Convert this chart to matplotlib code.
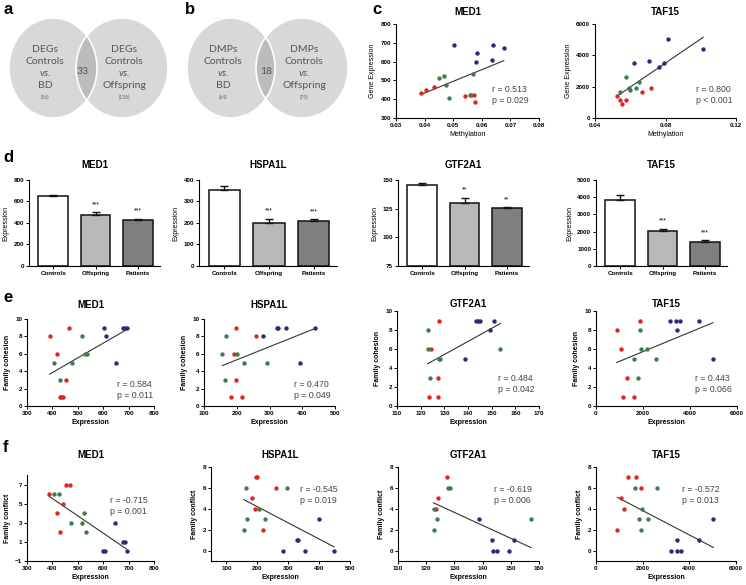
import numpy as np
import matplotlib
matplotlib.use('Agg')
import matplotlib.pyplot as plt
from matplotlib.patches import Ellipse

plt.rcParams['font.family'] = ['Liberation Sans', 'DejaVu Sans']

W, H = 746, 585

RED = '#e02424'
GREEN = '#3f7c4c'
NAVY = '#2a2a78'

# ---- panel a / b venn counts
venn_a_left = ['DEGs', 'Controls', 'vs.', 'BD', '(56)']
venn_a_right = ['DEGs', 'Controls', 'vs.', 'Offspring', '(128)']
venn_a_shared = 33
venn_b_left = ['DMPs', 'Controls', 'vs.', 'BD', '(64)']
venn_b_right = ['DMPs', 'Controls', 'vs.', 'Offspring', '(75)']
venn_b_shared = 18

# ---- panel c : methylation vs expression (P = patients, O = offspring, C = controls)
c_med1_P_x = [0.0389, 0.0405, 0.0433, 0.0541, 0.0562, 0.0571, 0.0577]
c_med1_P_y = [435, 451, 467, 417, 422, 424, 387]
c_med1_O_x = [0.0451, 0.0467, 0.0475, 0.0485, 0.0569, 0.0558]
c_med1_O_y = [515, 522, 474, 404, 535, 422]
c_med1_C_x = [0.0504, 0.0583, 0.0578, 0.0638, 0.0636, 0.0677]
c_med1_C_y = [690, 647, 600, 686, 606, 674]

c_taf15_P_x = [0.0527, 0.0542, 0.0555, 0.0576, 0.0665, 0.0716]
c_taf15_P_y = [1398, 1163, 907, 1131, 1686, 1921]
c_taf15_O_x = [0.0542, 0.0576, 0.0595, 0.0599, 0.0633, 0.0651]
c_taf15_O_y = [1655, 2615, 1942, 1814, 1942, 2284]
c_taf15_C_x = [0.0624, 0.0704, 0.0761, 0.0790, 0.0812, 0.1014]
c_taf15_C_y = [3522, 3670, 3266, 3522, 5018, 4378]

# ---- panel d : mean expression per group
groups = ['Controls', 'Offspring', 'Patients']
d_med1 = [650, 478, 430]
d_med1_err = [15, 22, 8]
d_hspa1l = [352, 200, 208]
d_hspa1l_err = [22, 20, 10]
d_gtf2a1 = [145.5, 130, 125.5]
d_gtf2a1_err = [1.5, 4.5, 0.7]
d_taf15 = [3830, 2020, 1370]
d_taf15_err = [300, 150, 130]
d_med1_sig = ['', '***', '***']
d_hspa1l_sig = ['', '***', '***']
d_gtf2a1_sig = ['', '**', '**']
d_taf15_sig = ['', '***', '***']

# ---- panel e : expression vs family cohesion
e_med1_P_x = [389, 420, 467, 454, 428, 435, 442]
e_med1_P_y = [8, 6, 9, 3, 1, 1, 1]
e_med1_O_x = [408, 428, 476, 518, 529, 538]
e_med1_O_y = [5, 3, 5, 8, 6, 6]
e_med1_C_x = [603, 610, 676, 685, 692, 650]
e_med1_C_y = [9, 8, 9, 9, 9, 5]

e_hspa1l_P_x = [198, 258, 191, 197, 183, 217]
e_hspa1l_P_y = [9, 8, 6, 3, 1, 1]
e_hspa1l_O_x = [168, 156, 201, 222, 292, 164]
e_hspa1l_O_y = [8, 6, 6, 5, 5, 3]
e_hspa1l_C_x = [280, 322, 327, 350, 394, 440]
e_hspa1l_C_y = [8, 9, 9, 9, 5, 9]

e_gtf2a1_P_x = [127.6, 124.4, 127.5, 123.5, 127.5]
e_gtf2a1_P_y = [9, 6, 3, 1, 1]
e_gtf2a1_O_x = [123, 123, 123.8, 127.6, 128.3, 153.7]
e_gtf2a1_O_y = [8, 6, 3, 5, 5, 6]
e_gtf2a1_C_x = [143.5, 144.2, 145.1, 151, 149.1, 138.9]
e_gtf2a1_C_y = [9, 9, 9, 9, 8, 5]

e_taf15_P_x = [881, 1052, 1876, 1336, 1165, 1635]
e_taf15_P_y = [8, 6, 9, 3, 1, 1]
e_taf15_O_x = [1876, 1620, 1905, 2190, 1777, 2559]
e_taf15_O_y = [8, 5, 6, 6, 3, 5]
e_taf15_C_x = [3155, 3411, 3582, 3440, 4364, 4975]
e_taf15_C_y = [9, 9, 9, 8, 9, 5]

# ---- panel f : expression vs family conflict
f_med1_P_x = [388, 454, 468, 441, 420, 430]
f_med1_P_y = [6, 7, 7, 5, 4, 2]
f_med1_O_x = [406, 427, 474, 515, 524, 534]
f_med1_O_y = [6, 6, 3, 3, 4, 2]
f_med1_C_x = [647, 600, 608, 676, 687, 692]
f_med1_C_y = [3, 0, 0, 1, 1, 0]

f_hspa1l_P_x = [197, 200, 260, 183, 193, 217]
f_hspa1l_P_y = [7, 7, 6, 5, 4, 2]
f_hspa1l_O_x = [163, 295, 204, 168, 224, 156]
f_hspa1l_O_y = [6, 6, 4, 3, 3, 2]
f_hspa1l_C_x = [284, 328, 333, 354, 400, 448]
f_hspa1l_C_y = [0, 1, 1, 0, 3, 0]

f_gtf2a1_P_x = [127.4, 124.1, 123.4]
f_gtf2a1_P_y = [7, 5, 4]
f_gtf2a1_O_x = [127.8, 128.3, 122.6, 123.9, 122.8, 157.2]
f_gtf2a1_O_y = [6, 6, 4, 3, 2, 3]
f_gtf2a1_C_x = [138.7, 143.5, 143.7, 145.1, 149.2, 151]
f_gtf2a1_C_y = [3, 1, 0, 0, 0, 1]

f_taf15_P_x = [1371, 1700, 1914, 1057, 1200, 914]
f_taf15_P_y = [7, 7, 6, 5, 4, 2]
f_taf15_O_x = [1657, 2600, 1971, 1829, 2229, 1929]
f_taf15_O_y = [6, 6, 4, 3, 3, 2]
f_taf15_C_x = [3214, 3471, 3471, 3643, 4414, 5029]
f_taf15_C_y = [0, 1, 0, 0, 1, 3]

stats_c = ['r = 0.513\np = 0.029', 'r = 0.800\np < 0.001']
stats_e = ['r = 0.584\np = 0.011', 'r = 0.470\np = 0.049',
           'r = 0.484\np = 0.042', 'r = 0.443\np = 0.066']
stats_f = ['r = -0.715\np = 0.001', 'r = -0.545\np = 0.019',
           'r = -0.619\np = 0.006', 'r = -0.572\np = 0.013']

fig = plt.figure(figsize=(W / 100, H / 100), dpi=100)


def rect(l, t, r, b):
    return [l / W, 1 - b / H, (r - l) / W, (b - t) / H]


def style(ax, fs=4.5, bold=False):
    for s in ['top', 'right']:
        ax.spines[s].set_visible(False)
    for s in ['left', 'bottom']:
        ax.spines[s].set_linewidth(0.8)
    ax.tick_params(direction='out', length=2, width=0.7, labelsize=fs, pad=1.5)
    if bold:
        for lab in ax.get_xticklabels() + ax.get_yticklabels():
            lab.set_fontweight('bold')


def title(ax, txt, y):
    p = ax.get_position()
    fig.text(p.x0 + p.width / 2, 1 - y / H, txt, ha='center', va='center',
             fontsize=7, fontweight='bold')


def scatter_panel(box, px, py, ox, oy, cx, cy, xlim, xticks, ylim, yticks,
                  xlabel, ylabel, name, ty, stat, sx, sy, bold_lab=True, xfmt=None):
    ax = fig.add_axes(rect(*box))
    allx = np.array(px + ox + cx)
    ally = np.array(py + oy + cy)
    k, b = np.polyfit(allx, ally, 1)
    lx = np.array([allx.min(), allx.max()])
    ax.plot(lx, k * lx + b, color='#333333', lw=0.8, zorder=1)
    ax.scatter(px, py, s=10, color=RED, zorder=3, linewidths=0)
    ax.scatter(ox, oy, s=10, color=GREEN, zorder=3, linewidths=0)
    ax.scatter(cx, cy, s=10, color=NAVY, zorder=3, linewidths=0)
    ax.set_xlim(*xlim)
    ax.set_ylim(*ylim)
    ax.set_xticks(xticks)
    ax.set_yticks(yticks)
    if xfmt:
        ax.set_xticklabels([xfmt % v for v in xticks])
    style(ax, bold=True)
    w = 'bold' if bold_lab else 'normal'
    ax.set_xlabel(xlabel, fontsize=5, fontweight=w, labelpad=2)
    ax.set_ylabel(ylabel, fontsize=5, fontweight=w, labelpad=3)
    title(ax, name, ty)
    fig.text(sx / W, 1 - sy / H, stat, ha='left', va='center', fontsize=6.3,
             color='#444444', linespacing=1.25)
    return ax


def bar_panel(box, vals, errs, sig, ylim, yticks, name):
    ax = fig.add_axes(rect(*box))
    x = np.arange(len(groups))
    ax.bar(x, [v - ylim[0] for v in vals], bottom=ylim[0], width=0.7,
           color=['white', '#b8b8b8', '#7f7f7f'], edgecolor='#111111', linewidth=1.1, zorder=2)
    ax.errorbar(x, vals, yerr=[[0] * len(errs), errs], fmt='none', ecolor='#111111',
                elinewidth=1.0, capsize=3, capthick=1.0, zorder=3)
    for xi, v, e, s in zip(x, vals, errs, sig):
        if s:
            ax.annotate(s, (xi, v + e), xytext=(0, 3), textcoords='offset points',
                        ha='center', va='bottom', fontsize=4.8)
    ax.set_xlim(-0.57, 2.52)
    ax.set_ylim(*ylim)
    ax.set_yticks(yticks)
    ax.set_xticks(x)
    ax.set_xticklabels(groups)
    style(ax, fs=4.5, bold=True)
    ax.set_ylabel('Expression', fontsize=5, labelpad=3)
    title(ax, name, 165)
    return ax


# ---- venn diagrams
axv = fig.add_axes([0, 0, 1, 1], zorder=-1)
axv.set_xlim(0, W)
axv.set_ylim(H, 0)
axv.axis('off')


def venn(cl, cr, left, right, shared, sx):
    fill = '#d8d8d8'
    e1 = Ellipse((cl, 68), 88, 100, facecolor=fill, edgecolor='none')
    e2 = Ellipse((cr, 68), 92, 100, facecolor=fill, edgecolor='none')
    axv.add_patch(e1)
    axv.add_patch(e2)
    ov = Ellipse((cr, 68), 92, 100, facecolor='#bcbcbc', edgecolor='none')
    axv.add_patch(ov)
    ov.set_clip_path(e1)
    axv.add_patch(Ellipse((cl, 68), 88, 100, facecolor='none', edgecolor='white', lw=1.2))
    axv.add_patch(Ellipse((cr, 68), 92, 100, facecolor='none', edgecolor='white', lw=1.2))
    for cx, lines in [(cl - 8, left), (cr + 2, right)]:
        for i, (txt, yy) in enumerate(zip(lines[:4], [49, 62, 74, 86])):
            axv.text(cx, yy, txt, ha='center', va='center', fontsize=7.5, color='#555555',
                     family=['Lato', 'DejaVu Sans'], style='italic' if i == 2 else 'normal')
        axv.text(cx, 97, lines[4], ha='center', va='center', fontsize=3.5, color='#666666',
                 family=['Lato', 'DejaVu Sans'])
    axv.text(sx, 72, str(shared), ha='center', va='center', fontsize=7.5, color='#555555',
             family=['Lato', 'DejaVu Sans'])


venn(53, 122, venn_a_left, venn_a_right, venn_a_shared, 83)
venn(231, 302, venn_b_left, venn_b_right, venn_b_shared, 266)

# ---- panel c
scatter_panel((396, 24, 539, 118), c_med1_P_x, c_med1_P_y, c_med1_O_x, c_med1_O_y,
              c_med1_C_x, c_med1_C_y, (0.03, 0.08), [0.03, 0.04, 0.05, 0.06, 0.07, 0.08],
              (300, 800), range(300, 801, 100), 'Methylation', 'Gene Expression', 'MED1', 12,
              stats_c[0], 492, 95, bold_lab=False, xfmt='%.2f')
scatter_panel((595, 24, 736, 118), c_taf15_P_x, c_taf15_P_y, c_taf15_O_x, c_taf15_O_y,
              c_taf15_C_x, c_taf15_C_y, (0.04, 0.12), [0.04, 0.08, 0.12],
              (0, 6000), [0, 2000, 4000, 6000], 'Methylation', 'Gene Expression', 'TAF15', 12,
              stats_c[1], 696, 95, bold_lab=False, xfmt='%.2f')

# ---- panel d
bar_panel((29, 180, 160, 266), d_med1, d_med1_err, d_med1_sig, (0, 800), range(0, 801, 200), 'MED1')
bar_panel((199, 180, 337, 266), d_hspa1l, d_hspa1l_err, d_hspa1l_sig, (0, 400), range(0, 401, 100), 'HSPA1L')
bar_panel((398, 180, 529, 266), d_gtf2a1, d_gtf2a1_err, d_gtf2a1_sig, (75, 150), [75, 100, 125, 150], 'GTF2A1')
bar_panel((596, 180, 727, 266), d_taf15, d_taf15_err, d_taf15_sig, (0, 5000), range(0, 5001, 1000), 'TAF15')

# ---- panel e
scatter_panel((27, 319, 154, 406), e_med1_P_x, e_med1_P_y, e_med1_O_x, e_med1_O_y, e_med1_C_x, e_med1_C_y,
              (300, 800), range(300, 801, 100), (0, 10), range(0, 11, 2),
              'Expression', 'Family cohesion', 'MED1', 305, stats_e[0], 117, 390)
scatter_panel((204, 319, 335, 406), e_hspa1l_P_x, e_hspa1l_P_y, e_hspa1l_O_x, e_hspa1l_O_y, e_hspa1l_C_x, e_hspa1l_C_y,
              (100, 500), range(100, 501, 100), (0, 10), range(0, 11, 2),
              'Expression', 'Family cohesion', 'HSPA1L', 305, stats_e[1], 294, 390)
scatter_panel((397, 311, 539, 406), e_gtf2a1_P_x, e_gtf2a1_P_y, e_gtf2a1_O_x, e_gtf2a1_O_y, e_gtf2a1_C_x, e_gtf2a1_C_y,
              (110, 170), range(110, 171, 10), (0, 10), range(0, 11, 2),
              'Expression', 'Family cohesion', 'GTF2A1', 304, stats_e[2], 498, 384)
scatter_panel((596, 311, 737, 406), e_taf15_P_x, e_taf15_P_y, e_taf15_O_x, e_taf15_O_y, e_taf15_C_x, e_taf15_C_y,
              (0, 6000), range(0, 6001, 2000), (0, 10), range(0, 11, 2),
              'Expression', 'Family cohesion', 'TAF15', 304, stats_e[3], 695, 384)

# ---- panel f
scatter_panel((27, 475, 154, 561), f_med1_P_x, f_med1_P_y, f_med1_O_x, f_med1_O_y, f_med1_C_x, f_med1_C_y,
              (300, 800), range(300, 801, 100), (-1, 8), [-1, 1, 3, 5, 7],
              'Expression', 'Family conflict', 'MED1', 455, stats_f[0], 110, 506)
scatter_panel((211, 467, 350, 561), f_hspa1l_P_x, f_hspa1l_P_y, f_hspa1l_O_x, f_hspa1l_O_y, f_hspa1l_C_x, f_hspa1l_C_y,
              (50, 500), range(100, 501, 100), (-1, 8), range(0, 9, 2),
              'Expression', 'Family conflict', 'HSPA1L', 455, stats_f[1], 300, 495)
scatter_panel((398, 467, 539, 561), f_gtf2a1_P_x, f_gtf2a1_P_y, f_gtf2a1_O_x, f_gtf2a1_O_y, f_gtf2a1_C_x, f_gtf2a1_C_y,
              (110, 160), range(110, 161, 10), (-1, 8), range(0, 9, 2),
              'Expression', 'Family conflict', 'GTF2A1', 455, stats_f[2], 494, 495)
scatter_panel((596, 467, 736, 561), f_taf15_P_x, f_taf15_P_y, f_taf15_O_x, f_taf15_O_y, f_taf15_C_x, f_taf15_C_y,
              (0, 6000), range(0, 6001, 2000), (-1, 8), range(0, 9, 2),
              'Expression', 'Family conflict', 'TAF15', 455, stats_f[3], 682, 495)

# panel letters
for letter, (lx, ly) in zip('abcdef', [(3, 9), (185, 9), (372, 9), (3, 158), (3, 298), (3, 447)]):
    fig.text(lx / W, 1 - ly / H, letter, fontsize=12, fontweight='bold', ha='left', va='center')

fig.savefig('out.png', dpi=100)
